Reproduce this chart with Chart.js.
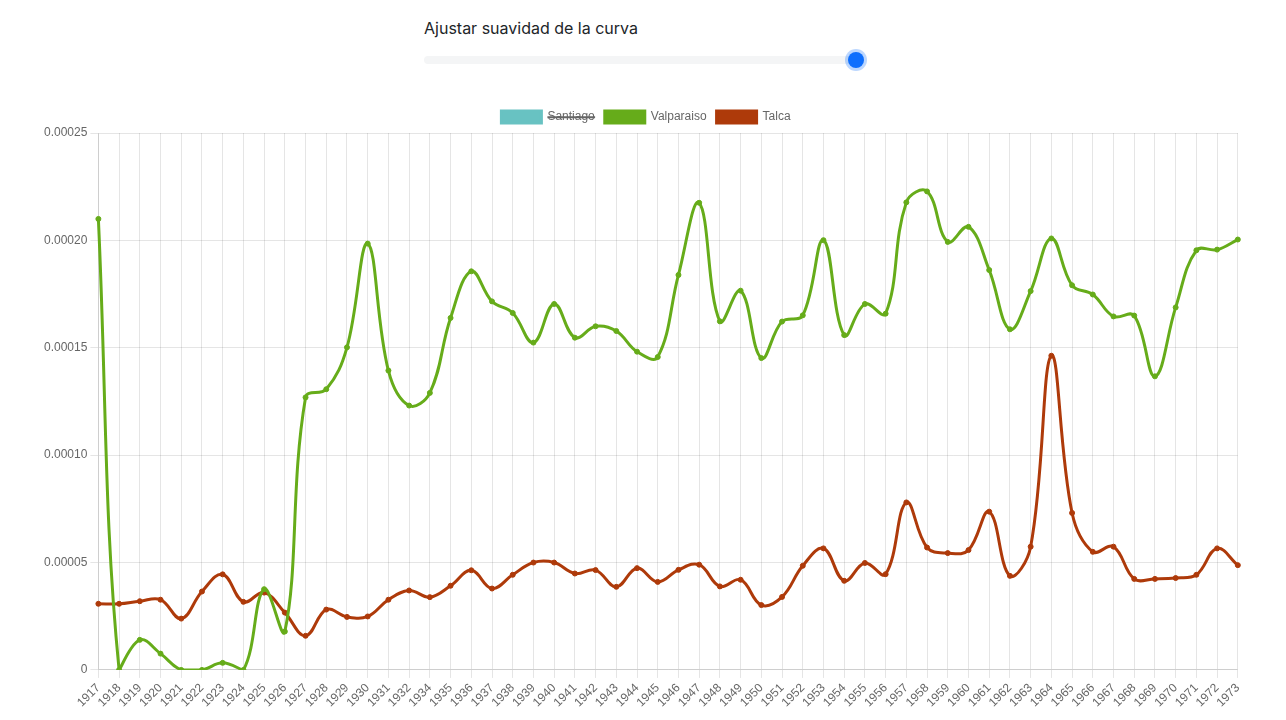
<!DOCTYPE html>
<html lang="es">
<head>
<meta charset="utf-8">
<title>Suavidad de la curva</title>
<script src="https://cdn.jsdelivr.net/npm/chart.js@4.4.1/dist/chart.umd.min.js"></script>
<style>
  html, body { margin: 0; padding: 0; background: #fff; }
  body { width: 1286px; height: 720px; overflow: hidden; position: relative; font-family: Inter, "Noto Sans", sans-serif; }
  .control { position: absolute; left: 424px; top: 18px; width: 440px; }
  .control label { display: block; font-size: 16px; color: #212529; margin-bottom: 14px; }
  input[type=range] { -webkit-appearance: none; appearance: none; width: 440px; height: 16px; margin: 0; background: transparent; }
  input[type=range]::-webkit-slider-runnable-track { height: 8px; background: #f4f5f6; border-radius: 4px; }
  input[type=range]::-webkit-slider-thumb {
    -webkit-appearance: none; width: 16px; height: 16px; margin-top: -4px; border-radius: 50%;
    background: #0d6efd; box-shadow: 0 0 0 3px rgba(13,110,253,.28); border: 0;
  }
  .chart-box { position: absolute; left: 37px; top: 101px; width: 1214px; height: 612px; }
</style>
</head>
<body>
<div class="control">
  <label for="tensionRange">Ajustar suavidad de la curva</label>
  <input type="range" id="tensionRange" min="0" max="0.4" step="0.01" value="0.4">
</div>
<div class="chart-box"><canvas id="curveChart"></canvas></div>

<script>
// === Data ===
const years = ["1917","1918","1919","1920","1921","1922","1923","1924","1925","1926",
  "1927","1928","1929","1930","1931","1932","1934","1935","1936","1937",
  "1938","1939","1940","1941","1942","1943","1944","1945","1946","1947",
  "1948","1949","1950","1951","1952","1953","1954","1955","1956","1957",
  "1958","1959","1960","1961","1962","1963","1964","1965","1966","1967",
  "1968","1969","1970","1971","1972","1973"];

const santiago = []; // serie oculta en la leyenda

const valparaiso = [0.000210, 0.0000000, 0.0000140, 0.0000076, 0.0000000, 0.0000000, 0.0000033, 0.0000000, 0.0000376, 0.0000179,
  0.0001269, 0.0001307, 0.0001502, 0.0001985, 0.0001394, 0.0001231, 0.0001290, 0.0001639, 0.0001856, 0.0001716,
  0.0001662, 0.0001524, 0.0001704, 0.0001547, 0.0001600, 0.0001578, 0.0001482, 0.0001457, 0.0001839, 0.0002175,
  0.0001623, 0.0001766, 0.0001452, 0.0001622, 0.0001651, 0.0002001, 0.0001559, 0.0001704, 0.0001659, 0.0002177,
  0.0002228, 0.0001993, 0.0002063, 0.0001862, 0.0001586, 0.0001764, 0.0002009, 0.0001791, 0.0001748, 0.0001646,
  0.0001650, 0.0001367, 0.0001688, 0.0001954, 0.0001957, 0.0002004];

const talca = [0.0000308, 0.0000308, 0.0000320, 0.0000327, 0.0000239, 0.0000365, 0.0000445, 0.0000317, 0.0000360, 0.0000267,
  0.0000159, 0.0000281, 0.0000247, 0.0000249, 0.0000327, 0.0000370, 0.0000339, 0.0000392, 0.0000464, 0.0000379,
  0.0000443, 0.0000500, 0.0000500, 0.0000449, 0.0000465, 0.0000387, 0.0000474, 0.0000410, 0.0000466, 0.0000490,
  0.0000389, 0.0000420, 0.0000302, 0.0000340, 0.0000485, 0.0000566, 0.0000415, 0.0000498, 0.0000446, 0.0000780,
  0.0000570, 0.0000544, 0.0000558, 0.0000737, 0.0000438, 0.0000574, 0.0001463, 0.0000731, 0.0000550, 0.0000574,
  0.0000424, 0.0000424, 0.0000428, 0.0000443, 0.0000566, 0.0000488];

const colSantiago = "rgb(104,194,194)";
const colValparaiso = "rgb(102,172,26)";
const colTalca = "rgb(174,58,10)";

function makeSet(label, data, color, hidden) {
  return {
    label, data, hidden,
    borderColor: color,
    backgroundColor: color,
    borderWidth: 3,
    pointRadius: 2.5,
    pointBorderWidth: 1,
    pointHoverRadius: 5,
    tension: 0.4
  };
}

const ctx = document.getElementById("curveChart").getContext("2d");
const chart = new Chart(ctx, {
  type: "line",
  data: {
    labels: years,
    datasets: [
      makeSet("Santiago", santiago, colSantiago, true),
      makeSet("Valparaiso", valparaiso, colValparaiso, false),
      makeSet("Talca", talca, colTalca, false)
    ]
  },
  options: {
    responsive: true,
    maintainAspectRatio: false,
    animation: false,
    layout: { padding: { left: 4 } },
    plugins: {
      legend: { position: "top" }
    },
    scales: {
      x: {
        ticks: { autoSkip: false, minRotation: 45, maxRotation: 45 }
      },
      y: {
        beginAtZero: true,
        min: 0,
        max: 0.00025,
        ticks: { stepSize: 0.00005 }
      }
    }
  }
});

// slider changes curve tension
document.getElementById("tensionRange").addEventListener("input", e => {
  const t = parseFloat(e.target.value) || 0;
  chart.data.datasets.forEach(ds => ds.tension = t);
  chart.update();
});
</script>
</body>
</html>
